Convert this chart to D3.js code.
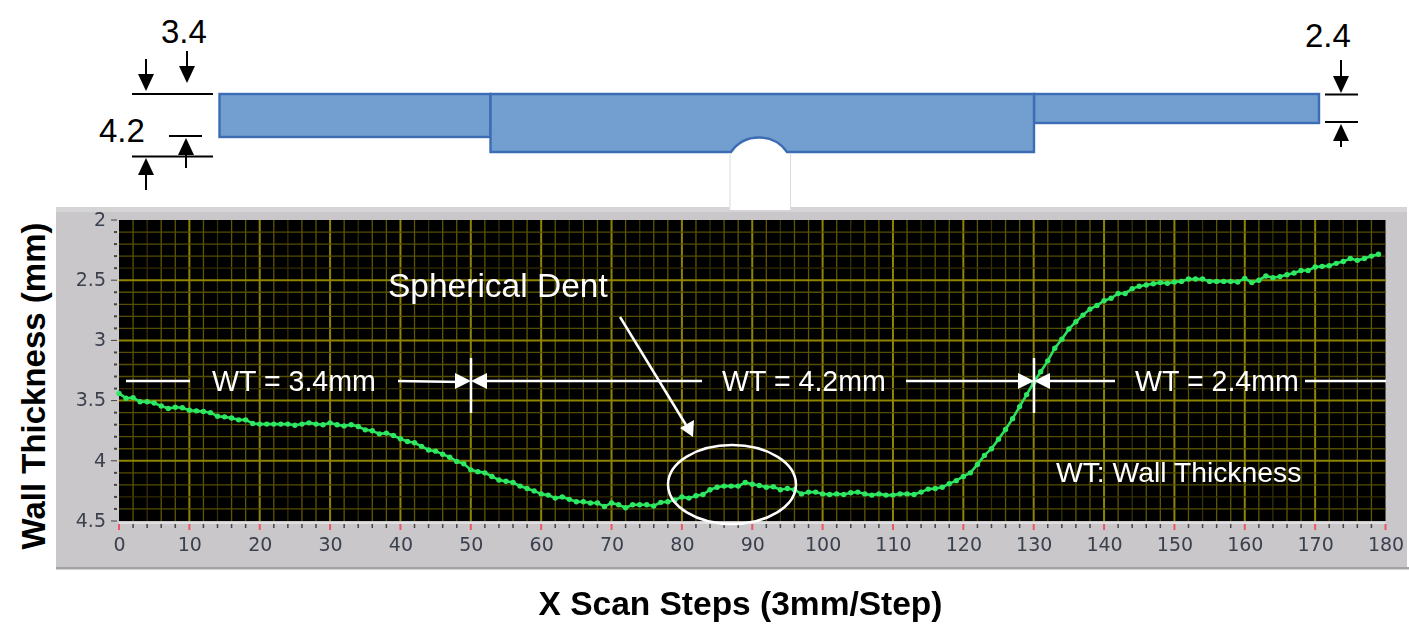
<!DOCTYPE html>
<html><head><meta charset="utf-8">
<script src="https://cdn.jsdelivr.net/npm/d3@7"></script>
<style>html,body{margin:0;padding:0;background:#fff}svg{display:block}</style>
</head><body><svg id="c" width="1409" height="637"></svg>
<script>
const thickness = [3.44,3.48,3.475,3.51,3.51,3.52,3.545,3.565,3.555,3.56,
3.58,3.585,3.59,3.60,3.63,3.635,3.645,3.66,3.66,3.69,
3.695,3.695,3.695,3.695,3.695,3.705,3.695,3.685,3.695,3.70,
3.685,3.70,3.71,3.70,3.715,3.743,3.75,3.776,3.77,3.79,
3.817,3.84,3.85,3.88,3.91,3.92,3.945,3.97,4.005,4.025,
4.075,4.09,4.10,4.13,4.16,4.17,4.18,4.21,4.23,4.25,
4.275,4.285,4.31,4.30,4.32,4.34,4.34,4.35,4.35,4.38,
4.35,4.365,4.39,4.365,4.365,4.365,4.375,4.345,4.34,4.325,
4.30,4.31,4.29,4.28,4.24,4.22,4.21,4.21,4.21,4.18,
4.195,4.205,4.22,4.215,4.24,4.23,4.24,4.275,4.26,4.26,
4.275,4.28,4.275,4.28,4.265,4.26,4.275,4.285,4.275,4.285,
4.285,4.275,4.275,4.28,4.26,4.235,4.23,4.22,4.19,4.165,
4.13,4.10,4.03,3.955,3.90,3.82,3.74,3.65,3.55,3.45,
3.35,3.26,3.17,3.065,2.99,2.905,2.845,2.79,2.74,2.71,
2.67,2.65,2.61,2.61,2.57,2.55,2.54,2.53,2.52,2.525,
2.515,2.51,2.49,2.49,2.49,2.51,2.51,2.51,2.51,2.515,
2.485,2.52,2.50,2.465,2.48,2.47,2.455,2.44,2.42,2.42,
2.39,2.385,2.38,2.36,2.345,2.32,2.335,2.32,2.30,2.285];
const xTicks = [0,10,20,30,40,50,60,70,80,90,100,110,120,130,140,150,160,170,180];
const yTicks = [2,2.5,3,3.5,4,4.5];
const xMinor = d3.range(0,181,2);
const yMinor = d3.range(20,46).map(d=>d/10);
const sectionThickness = [3.4,4.2,2.4];
const sectionLabels = ["WT = 3.4mm","WT = 4.2mm","WT = 2.4mm"];

const svg = d3.select("#c");
const x = d3.scaleLinear().domain([0,180]).range([119,1385.5]);
const y = d3.scaleLinear().domain([2,4.5]).range([220,521]);
const defs = svg.append("defs");
defs.append("filter").attr("id","soft").attr("x","-5%").attr("y","-5%").attr("width","110%").attr("height","110%")
  .append("feGaussianBlur").attr("stdDeviation",0.5);
defs.append("filter").attr("id","softT").append("feGaussianBlur").attr("stdDeviation",0.35);

// ---- cross-section schematic ----
const blue="#729fd0", edge="#3b6cb4";
const sec = svg.append("g").attr("fill",blue).attr("stroke",edge).attr("stroke-width",2.4);
sec.append("rect").attr("x",219.5).attr("y",94).attr("width",271).attr("height",43);
sec.append("rect").attr("x",1034).attr("y",94).attr("width",285).attr("height",29);
sec.append("path").attr("d","M490.5,94H1034V152H787C780,142 771,137.5 759,137.5C747,137.5 738,142 731,152H490.5Z");
svg.append("path").attr("d","M730,153.5V210H790.5V153.5").attr("fill","none").attr("stroke","#dcdcdc").attr("stroke-width",1);

function dimLine(x1,x2,yy){svg.append("line").attr("x1",x1).attr("x2",x2).attr("y1",yy).attr("y2",yy).attr("stroke","#000").attr("stroke-width",2);}
function vArrow(xx,tail,tip){
  const s = tip>tail?1:-1;
  svg.append("line").attr("x1",xx).attr("x2",xx).attr("y1",tail).attr("y2",tip-s*10).attr("stroke","#000").attr("stroke-width",2);
  svg.append("path").attr("d",`M${xx},${tip}L${xx-8},${tip-s*17}H${xx+8}Z`).attr("fill","#000");
}
dimLine(132,213,94);dimLine(132,213,156.5);dimLine(169,202,136);dimLine(1325,1358,94.5);dimLine(1325,1358,122);
vArrow(146,59,91);vArrow(187,51,83);vArrow(186,168,138);vArrow(146,190,158);vArrow(1341,60,93);vArrow(1341,147,124);
function blackText(t,xx,yy){svg.append("text").attr("x",xx).attr("y",yy).attr("font-family","Liberation Sans").attr("font-size",33).attr("fill","#000").text(t);}
blackText(d3.format(".1f")(sectionThickness[0]),161,43);
blackText(d3.format(".1f")(sectionThickness[1]),99,142);
blackText(d3.format(".1f")(sectionThickness[2]),1305,47);

// ---- instrument panel ----
svg.append("rect").attr("x",56).attr("y",207).attr("width",1351).attr("height",361).attr("fill","#c9c7c9");
svg.append("rect").attr("x",56).attr("y",207).attr("width",1351).attr("height",5).attr("fill","#d6d5d6");
svg.append("rect").attr("x",56).attr("y",567).attr("width",1353).attr("height",2.5).attr("fill","#a3a2a4");
svg.append("rect").attr("x",729.5).attr("y",200).attr("width",61).attr("height",10).attr("fill","#fff");
svg.append("path").attr("d","M730,200V210M790.5,200V210").attr("stroke","#dcdcdc").attr("fill","none");
svg.append("rect").attr("x",x(0)).attr("y",y(2)).attr("width",x(180)-x(0)).attr("height",y(4.5)-y(2)).attr("fill","#000");

// ---- grid ----
const grid = svg.append("g").attr("filter","url(#soft)");
const isMajorX = d=>d%10===0, isDimX = d=>d%10===4;
grid.selectAll(".vg").data(xMinor.filter(d=>d>0&&d<180)).join("line")
  .attr("x1",x).attr("x2",x).attr("y1",y(2)).attr("y2",y(4.5))
  .attr("stroke",d=>isMajorX(d)?"#8f8400":isDimX(d)?"#363200":"#5e5700")
  .attr("stroke-width",d=>isMajorX(d)?2:1.3);
const isMajorY = d=>Math.abs(d*2-Math.round(d*2))<1e-9;
const isDimY = d=>[2.4,3.4,4.3].includes(d);
grid.selectAll(".hg").data(yMinor.filter(d=>d>2&&d<4.5)).join("line")
  .attr("y1",y).attr("y2",y).attr("x1",x(0)).attr("x2",x(180))
  .attr("stroke",d=>isMajorY(d)?"#8f8400":isDimY(d)?"#322e00":"#544e00")
  .attr("stroke-width",d=>isMajorY(d)?2:1.3);

// ---- axes ----
const axisG = svg.append("g").attr("filter","url(#softT)");
const xAxis = axisG.append("g").attr("transform",`translate(0,${y(4.5)})`)
  .call(d3.axisBottom(x).tickValues(xTicks).tickSize(0).tickPadding(16).tickFormat(d3.format("d")));
const yAxis = axisG.append("g").attr("transform",`translate(${x(0)},0)`)
  .call(d3.axisLeft(y).tickValues(yTicks).tickSize(0).tickPadding(13).tickFormat(d=>String(d)));
[xAxis,yAxis].forEach(a=>{a.select(".domain").remove();
  a.selectAll("text").attr("font-family","DejaVu Sans").attr("font-size",19).attr("fill","#3a3f4e");});
yAxis.selectAll("text").attr("dy","0.28em");
xAxis.selectAll("text").attr("dy","0.72em");
axisG.selectAll(".xm").data(xMinor).join("line")
  .attr("x1",x).attr("x2",x).attr("y1",d=>y(4.5)+3).attr("y2",d=>y(4.5)+(isMajorX(d)?9:7))
  .attr("stroke",d=>isMajorX(d)?"#ee5566":"#444").attr("stroke-width",d=>isMajorX(d)?2:1.5);
axisG.append("line").attr("x1",x(0)).attr("x2",x(180)).attr("y1",y(4.5)+2).attr("y2",y(4.5)+2).attr("stroke","#e8e8e8").attr("stroke-width",1.5);
axisG.selectAll(".ym").data(yMinor).join("line")
  .attr("y1",y).attr("y2",y).attr("x2",x(0)-2).attr("x1",d=>x(0)-(isMajorY(d)?8:5))
  .attr("stroke","#444").attr("stroke-width",d=>isMajorY(d)?1:2);

// ---- trace ----
const trace = svg.append("g").attr("filter","url(#softT)");
const pts = thickness.map((v,i)=>[i,v]);
trace.append("path").attr("d",d3.line().x(d=>x(d[0])).y(d=>y(d[1]))(pts))
  .attr("fill","none").attr("stroke","#2ce25e").attr("stroke-width",2.6);
trace.selectAll("circle").data(pts).join("circle")
  .attr("cx",d=>x(d[0])).attr("cy",d=>y(d[1])).attr("r",2.7).attr("fill","#2ee862");

// ---- annotations ----
const w = svg.append("g");
function wl(a,b,c,d,sw){w.append("line").attr("x1",a).attr("x2",c).attr("y1",b).attr("y2",d).attr("stroke","#fff").attr("stroke-width",sw||2.5);}
function wt(t,xx,yy,fs,anchor){w.append("text").attr("x",xx).attr("y",yy).attr("font-family","Liberation Sans").attr("font-size",fs).attr("fill","#fff").attr("text-anchor",anchor||"start").text(t);}
const ay=381;
function head(tip,dir){w.append("path").attr("d",`M${tip},${ay}L${tip+dir*16},${ay-8}V${ay+8}Z`).attr("fill","#fff");}
wl(126,ay,190,ay);wl(398,ay,462,ay+1);
wl(487,ay,702,ay);wl(906,ay,1022,ay);
wl(1048,ay,1115,ay);wl(1305,ay,1386,ay);
head(471,-1);head(471,1);head(1034,-1);head(1034,1);
wl(471,358,471,413);wl(1034,358,1034,413);
wt(sectionLabels[0],212,391,28.6);wt(sectionLabels[1],722,391,28.6);wt(sectionLabels[2],1135,391,28.6);
wt("Spherical Dent",388,297,33.5);
wt("WT: Wall Thickness",1056,482,28.3);
wl(620,317,686,425,2.5);
w.append("path").attr("d","M693,437L680,428L694,420Z").attr("fill","#fff");
w.append("ellipse").attr("cx",732).attr("cy",484.5).attr("rx",64).attr("ry",39.5).attr("fill","none").attr("stroke","#fff").attr("stroke-width",2.5);

// ---- titles ----
svg.append("text").attr("x",740.5).attr("y",615).attr("text-anchor","middle").attr("font-family","Liberation Sans").attr("font-weight","bold").attr("font-size",33.5).attr("fill","#000").text("X Scan Steps (3mm/Step)");
svg.append("text").attr("transform","translate(45,386) rotate(-90)").attr("text-anchor","middle").attr("font-family","Liberation Sans").attr("font-weight","bold").attr("font-size",33).attr("fill","#000").text("Wall Thickness (mm)");
</script></body></html>
